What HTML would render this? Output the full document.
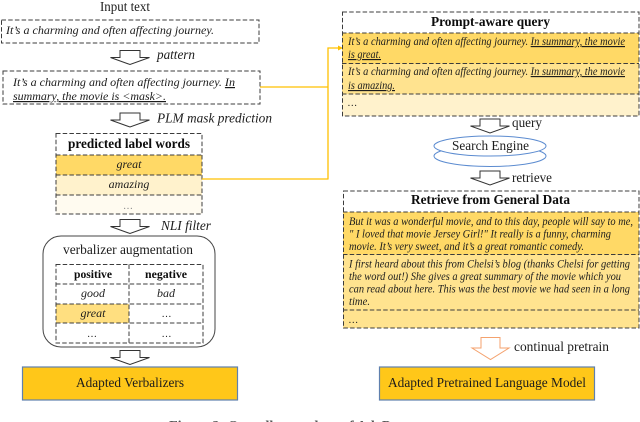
<!DOCTYPE html>
<html><head><meta charset="utf-8"><style>
html,body{margin:0;padding:0;background:#fff}
svg{display:block}
text{font-family:"Liberation Serif",serif;fill:#1c1c1c}
.i{font-style:italic}
.b{font-weight:bold;fill:#0c0c0c}
.d{fill:none;stroke:#3c3c3c;stroke-width:1;stroke-dasharray:4.500 2.200}
.a{fill:#fff;stroke:#333;stroke-width:1}
</style></head><body>
<svg width="640" height="422" viewBox="0 0 640 422" xmlns="http://www.w3.org/2000/svg">
<defs>
<path id="ar" d="M-10 0H10V7H19.500L0 14L-19.500 7H-10Z"/>
</defs>
<text x="100" y="11" font-size="13.300" textLength="50" lengthAdjust="spacingAndGlyphs">Input text</text>
<rect x="1.500" y="20" width="257.500" height="23" class="d"/>
<text x="6" y="34" font-size="12" class="i" textLength="208" lengthAdjust="spacingAndGlyphs">It’s a charming and often affecting journey.</text>
<use href="#ar" x="130" y="50.500" class="a"/>
<text x="157" y="59" font-size="13.300" class="i" textLength="38" lengthAdjust="spacingAndGlyphs">pattern</text>
<rect x="3" y="71" width="257" height="33" class="d"/>
<text x="13" y="86" font-size="12" class="i" textLength="222" lengthAdjust="spacingAndGlyphs">It’s a charming and often affecting journey. <tspan text-decoration="underline">In</tspan></text>
<text x="13" y="100" font-size="12" class="i" text-decoration="underline" textLength="153" lengthAdjust="spacingAndGlyphs">summary, the movie is &lt;mask&gt;.</text>
<use href="#ar" x="130" y="113" class="a"/>
<text x="157" y="122.500" font-size="13.300" class="i" textLength="115" lengthAdjust="spacingAndGlyphs">PLM mask prediction</text>

<rect x="56" y="155" width="146" height="20" fill="#FFD966"/>
<rect x="56" y="175" width="146" height="20" fill="#FFF2CC"/>
<rect x="56" y="195" width="146" height="19" fill="#FFFBF0"/>
<rect x="56" y="133.500" width="146" height="80.500" class="d"/>
<path d="M56 155H202M56 175H202M56 195H202" class="d"/>
<text x="68" y="148" font-size="13.300" class="b" textLength="122" lengthAdjust="spacingAndGlyphs">predicted label words</text>
<text x="129" y="168" font-size="12" class="i" text-anchor="middle">great</text>
<text x="129" y="188" font-size="12" class="i" text-anchor="middle">amazing</text>
<text x="128" y="209" font-size="10" text-anchor="middle" style="fill:#888">…</text>

<path d="M260 87H328M202 179H328M328 179.500V48H339" fill="none" stroke="#FFC000" stroke-width="1.300"/>
<path d="M343 48L338 45.500V50.500Z" fill="#FFC000"/>

<use href="#ar" x="130" y="219.500" class="a"/>
<text x="161" y="230" font-size="13.300" class="i" textLength="50" lengthAdjust="spacingAndGlyphs">NLI filter</text>
<rect x="43" y="236" width="172" height="111" rx="18" fill="#fff" stroke="#444" stroke-width="1"/>
<text x="63" y="254" font-size="13.300" textLength="130" lengthAdjust="spacingAndGlyphs">verbalizer augmentation</text>
<rect x="56" y="304" width="73" height="19" fill="#FFDF80"/>
<rect x="56" y="264.500" width="147" height="78.500" class="d"/>
<path d="M129 264.500V343M56 284H203M56 304H203M56 323H203" class="d"/>
<text x="74" y="278" font-size="12" class="b" textLength="38" lengthAdjust="spacingAndGlyphs">positive</text>
<text x="145" y="278" font-size="12" class="b" textLength="42" lengthAdjust="spacingAndGlyphs">negative</text>
<text x="93" y="297" font-size="12" class="i" text-anchor="middle">good</text>
<text x="166" y="297" font-size="12" class="i" text-anchor="middle">bad</text>
<text x="93" y="317" font-size="12" class="i" text-anchor="middle">great</text>
<text x="166.500" y="317" font-size="10" text-anchor="middle">…</text>
<text x="92" y="337" font-size="10" text-anchor="middle">…</text>
<text x="166.500" y="337" font-size="10" text-anchor="middle">…</text>
<use href="#ar" x="130" y="350.500" class="a"/>
<rect x="22.500" y="367" width="215" height="33" fill="#FFC719" stroke="#5F80AE" stroke-width="1.200"/>
<text x="76" y="387" font-size="13.300" textLength="108" lengthAdjust="spacingAndGlyphs">Adapted Verbalizers</text>

<rect x="342" y="33" width="297" height="30.500" fill="#FFD966"/>
<rect x="342" y="63.500" width="297" height="30.500" fill="#FFE38F"/>
<rect x="342" y="94" width="297" height="22" fill="#FFF2CC"/>
<rect x="342.500" y="12" width="296.500" height="104" class="d"/>
<path d="M342 33H639M342 63.500H639M342 94H639" class="d"/>
<text x="431" y="26" font-size="13.300" class="b" textLength="119" lengthAdjust="spacingAndGlyphs">Prompt-aware query</text>
<text x="348" y="45" font-size="11.500" class="i" textLength="277" lengthAdjust="spacingAndGlyphs">It’s a charming and often affecting journey. <tspan text-decoration="underline">In summary, the movie</tspan></text>
<text x="348" y="58" font-size="11.500" class="i" text-decoration="underline" textLength="33" lengthAdjust="spacingAndGlyphs">is great.</text>
<text x="348" y="75" font-size="11.500" class="i" textLength="277" lengthAdjust="spacingAndGlyphs">It’s a charming and often affecting journey. <tspan text-decoration="underline">In summary, the movie</tspan></text>
<text x="348" y="89" font-size="11.500" class="i" text-decoration="underline" textLength="47" lengthAdjust="spacingAndGlyphs">is amazing.</text>
<text x="348" y="106" font-size="10" class="i">…</text>

<use href="#ar" x="490" y="119" class="a"/>
<text x="512" y="127" font-size="13.300" textLength="30" lengthAdjust="spacingAndGlyphs">query</text>
<ellipse cx="490" cy="156" rx="56" ry="10.500" fill="#fff" stroke="#5B8BD0" stroke-width="1"/>
<ellipse cx="490" cy="146" rx="56" ry="10" fill="#fff" stroke="#5B8BD0" stroke-width="1"/>
<text x="452" y="150" font-size="13.300" textLength="77" lengthAdjust="spacingAndGlyphs">Search Engine</text>
<use href="#ar" x="490" y="171" class="a"/>
<text x="512" y="182" font-size="13.300" textLength="40" lengthAdjust="spacingAndGlyphs">retrieve</text>

<rect x="343" y="212" width="296" height="42.500" fill="#FFD966"/>
<rect x="343" y="254.500" width="296" height="73.500" fill="#FFE38F"/>
<rect x="343.500" y="191" width="295.500" height="137" class="d"/>
<path d="M343 212H639M343 254.500H639M343 310H639" class="d"/>
<text x="411" y="204" font-size="13.300" class="b" textLength="159" lengthAdjust="spacingAndGlyphs">Retrieve from General Data</text>
<text class="i" x="349" y="225" font-size="11.500" textLength="284" lengthAdjust="spacingAndGlyphs">But it was a wonderful movie, and to this day, people will say to me,</text>
<text class="i" x="349" y="237.500" font-size="11.500" textLength="262" lengthAdjust="spacingAndGlyphs">" I loved that movie Jersey Girl!" It really is a funny, charming</text>
<text class="i" x="349" y="250" font-size="11.500" textLength="235" lengthAdjust="spacingAndGlyphs">movie. It’s very sweet, and it’s a great romantic comedy.</text>
<text class="i" x="349" y="267.500" font-size="11.500" textLength="281" lengthAdjust="spacingAndGlyphs">I first heard about this from Chelsi’s blog (thanks Chelsi for getting</text>
<text class="i" x="349" y="280" font-size="11.500" textLength="272" lengthAdjust="spacingAndGlyphs">the word out!) She gives a great summary of the movie which you</text>
<text class="i" x="349" y="292.500" font-size="11.500" textLength="281" lengthAdjust="spacingAndGlyphs">can read about here. This was the best movie we had seen in a long</text>
<text class="i" x="349" y="305" font-size="11.500" textLength="21" lengthAdjust="spacingAndGlyphs">time.</text>
<text class="i" x="349" y="323" font-size="10">…</text>

<path d="M481 337.500H500V348H509L490.500 359.500L472 348H481Z" fill="#fff" stroke="#F4A26E" stroke-width="1"/>
<text x="514" y="351" font-size="13.300" textLength="95" lengthAdjust="spacingAndGlyphs">continual pretrain</text>
<rect x="379.500" y="367" width="215" height="33" fill="#FFC719" stroke="#5F80AE" stroke-width="1.200"/>
<text x="388" y="387" font-size="13.300" textLength="198" lengthAdjust="spacingAndGlyphs">Adapted Pretrained Language Model</text>

<text x="169" y="430" font-size="13.300" class="b" style="fill:#555" textLength="259" lengthAdjust="spacingAndGlyphs">Figure 2: Overall procedure of AdaPrompt</text>
</svg>
</body></html>
